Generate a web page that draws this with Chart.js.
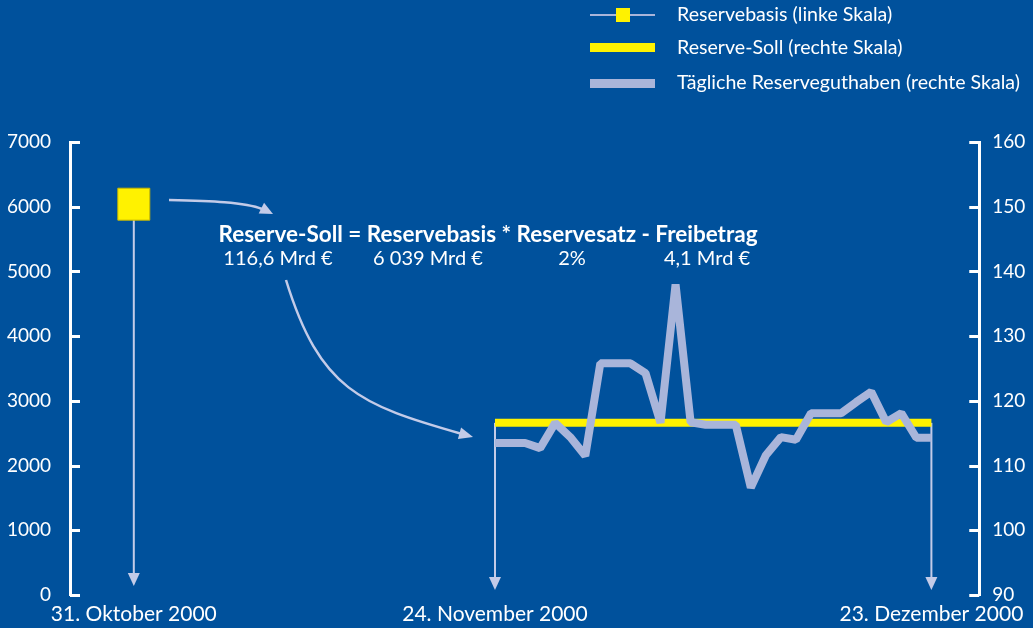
<!DOCTYPE html>
<html>
<head>
<meta charset="utf-8">
<script src="https://cdn.jsdelivr.net/npm/chart.js@4"></script>
<style>
  html, body { margin: 0; padding: 0; background: #00519c; }
  #wrap { width: 1033px; height: 628px; }
</style>
</head>
<body>
<div id="wrap"><canvas id="reserveChart" width="1033" height="628"></canvas></div>
<script>
// --- DATA ---
// x = days since 31 Oct 2000
const tickDays = [0, 24, 53];
const tickLabels = ['31. Oktober 2000', '24. November 2000', '23. Dezember 2000'];

const basisDays = [0];
const basisValues = [6039];          // Mrd €, left scale

const sollDays = [24, 53];
const sollValues = [116.6, 116.6];   // Mrd €, right scale

const dailyDays = [24, 25, 26, 27, 28, 29, 30, 31, 32, 33, 34, 35, 36, 37, 38,
                   39, 40, 41, 42, 43, 44, 45, 46, 47, 48, 49, 50, 51, 52, 53];
const dailyValues = [113.5, 113.5, 113.5, 112.7, 116.6, 114.4, 111.5, 125.8, 125.8, 125.8,
                     124.3, 116.6, 138.0, 116.7, 116.3, 116.3, 116.3, 106.6, 111.6, 114.4,
                     114.0, 118.1, 118.1, 118.1, 119.8, 121.4, 116.7, 118.1, 114.3, 114.3];

const leftTicks = [0, 1000, 2000, 3000, 4000, 5000, 6000, 7000];
const rightTicks = [90, 100, 110, 120, 130, 140, 150, 160];

const legendLabels = ['Reservebasis (linke Skala)', 'Reserve-Soll (rechte Skala)', 'Tägliche Reserveguthaben (rechte Skala)'];
const formulaText = 'Reserve-Soll = Reservebasis * Reservesatz - Freibetrag';
const formulaValues = ['116,6 Mrd €', '6 039 Mrd €', '2%', '4,1 Mrd €'];

// --- COLOURS ---
const yellow = '#fff200';
const lilac = '#a9b5da';
const arrowCol = '#c3cbe8';
const white = '#ffffff';
const FONT = 'Lato, "Open Sans", sans-serif';

function arrowHead(ctx, x, y, ang, len, half) {
    ctx.save();
    ctx.translate(x, y);
    ctx.rotate(ang);
    ctx.beginPath();
    ctx.moveTo(0, 0);
    ctx.lineTo(-len, -half);
    ctx.lineTo(-len, half);
    ctx.closePath();
    ctx.fill();
    ctx.restore();
}

// inward tick marks, drop arrows, legend and formula
const decorPlugin = {
    id: 'decor',
    beforeDatasetsDraw(chart) {
        const ctx = chart.ctx;
        const x = chart.scales.x, yL = chart.scales.yL, yR = chart.scales.yR;
        ctx.save();
        ctx.strokeStyle = arrowCol;
        ctx.fillStyle = arrowCol;
        ctx.lineWidth = 2;
        const bottom = yL.getPixelForValue(0);
        // from basis square
        const bx = x.getPixelForValue(basisDays[0]);
        ctx.beginPath();
        ctx.moveTo(bx, yL.getPixelForValue(basisValues[0]));
        ctx.lineTo(bx, bottom - 20);
        ctx.stroke();
        arrowHead(ctx, bx, bottom - 9, Math.PI / 2, 13, 6);
        // from soll line ends
        sollDays.forEach((d, i) => {
            const px = x.getPixelForValue(d);
            ctx.beginPath();
            ctx.moveTo(px, yR.getPixelForValue(sollValues[i]));
            ctx.lineTo(px, bottom - 15);
            ctx.stroke();
            arrowHead(ctx, px, bottom - 5, Math.PI / 2, 13, 6);
        });
        ctx.restore();
    },
    afterDraw(chart) {
        const ctx = chart.ctx;
        const yL = chart.scales.yL, yR = chart.scales.yR;
        const area = chart.chartArea;
        ctx.save();
        ctx.strokeStyle = white;
        ctx.lineWidth = 3;
        leftTicks.forEach(v => {
            const py = Math.round(yL.getPixelForValue(v)) + 0.5;
            ctx.beginPath();
            ctx.moveTo(area.left, py);
            ctx.lineTo(area.left + 10, py);
            ctx.stroke();
        });
        rightTicks.forEach(v => {
            const py = Math.round(yR.getPixelForValue(v)) + 0.5;
            ctx.beginPath();
            ctx.moveTo(area.right, py);
            ctx.lineTo(area.right - 10, py);
            ctx.stroke();
        });

        // legend
        const lx0 = 590, lx1 = 655, tx = 677;
        const rows = [15, 48, 83];
        ctx.lineWidth = 2;
        ctx.strokeStyle = lilac;
        ctx.beginPath();
        ctx.moveTo(lx0, rows[0]); ctx.lineTo(lx1, rows[0]);
        ctx.stroke();
        ctx.fillStyle = yellow;
        ctx.fillRect(616, rows[0] - 7, 14, 14);
        ctx.fillRect(lx0, rows[1] - 5, lx1 - lx0, 9);
        ctx.fillStyle = lilac;
        ctx.fillRect(lx0, rows[2] - 4, lx1 - lx0, 9);
        ctx.fillStyle = white;
        ctx.font = '19.6px ' + FONT;
        ctx.textBaseline = 'middle';
        ctx.textAlign = 'left';
        legendLabels.forEach((t, i) => ctx.fillText(t, tx, rows[i]));

        // formula
        ctx.textAlign = 'center';
        ctx.font = 'bold 22.5px ' + FONT;
        ctx.fillText(formulaText, 488, 235);
        ctx.font = '20px ' + FONT;
        const fx = [278, 428, 572, 707];
        formulaValues.forEach((t, i) => ctx.fillText(t, fx[i], 259));

        // curved arrows
        ctx.strokeStyle = arrowCol;
        ctx.fillStyle = arrowCol;
        ctx.lineWidth = 2.5;
        ctx.beginPath();
        ctx.moveTo(169, 200);
        ctx.bezierCurveTo(210, 201, 245, 202, 262, 209);
        ctx.stroke();
        arrowHead(ctx, 273, 214, Math.atan2(7, 14), 13, 6);

        ctx.beginPath();
        ctx.moveTo(286, 280);
        ctx.bezierCurveTo(320, 390, 360, 405, 462, 434);
        ctx.stroke();
        arrowHead(ctx, 473, 437, Math.atan2(3, 11), 14, 6);
        ctx.restore();
    }
};

const tickFont = { family: FONT, size: 19 };

new Chart(document.getElementById('reserveChart'), {
    type: 'line',
    data: {
        datasets: [
            {
                label: legendLabels[0],
                data: basisDays.map((d, i) => ({ x: d, y: basisValues[i] })),
                yAxisID: 'yL',
                showLine: false,
                pointStyle: 'rect',
                pointRadius: 22.6,
                pointBackgroundColor: yellow,
                pointBorderColor: '#c8b800',
                pointBorderWidth: 1,
                order: 0,
                clip: false
            },
            {
                label: legendLabels[2],
                data: dailyDays.map((d, i) => ({ x: d, y: dailyValues[i] })),
                yAxisID: 'yR',
                borderColor: lilac,
                borderWidth: 8,
                pointRadius: 0,
                borderJoinStyle: 'bevel',
                tension: 0,
                order: 1,
                clip: false
            },
            {
                label: legendLabels[1],
                data: sollDays.map((d, i) => ({ x: d, y: sollValues[i] })),
                yAxisID: 'yR',
                borderColor: yellow,
                borderWidth: 8,
                borderCapStyle: 'butt',
                pointRadius: 0,
                order: 2,
                clip: false
            }
        ]
    },
    options: {
        responsive: false,
        animation: false,
        events: [],
        layout: { padding: { top: 142, left: 0, right: 0, bottom: 0 } },
        plugins: { legend: { display: false }, tooltip: { enabled: false } },
        scales: {
            x: {
                type: 'linear',
                min: -4.24,
                max: 56.18,
                grid: { display: false, drawTicks: false },
                border: { display: false },
                afterBuildTicks: s => { s.ticks = tickDays.map(v => ({ value: v })); },
                afterFit: s => { s.height = 33; },
                ticks: {
                    color: white,
                    font: { family: FONT, size: 21 },
                    padding: 7,
                    maxRotation: 0,
                    autoSkip: false,
                    callback: v => tickLabels[tickDays.indexOf(v)]
                }
            },
            yL: {
                position: 'left',
                min: 0,
                max: 7000,
                grid: { display: false, drawTicks: false },
                border: { display: true, color: white, width: 3 },
                afterBuildTicks: s => { s.ticks = leftTicks.map(v => ({ value: v })); },
                afterFit: s => { s.width = 70; },
                ticks: { color: white, font: tickFont, padding: 19, callback: v => String(v) }
            },
            yR: {
                position: 'right',
                min: 90,
                max: 160,
                grid: { display: false, drawTicks: false },
                border: { display: true, color: white, width: 3 },
                afterBuildTicks: s => { s.ticks = rightTicks.map(v => ({ value: v })); },
                afterFit: s => { s.width = 51; },
                ticks: { color: white, font: tickFont, padding: 13, callback: v => String(v) }
            }
        }
    },
    plugins: [decorPlugin]
});
</script>
</body>
</html>
